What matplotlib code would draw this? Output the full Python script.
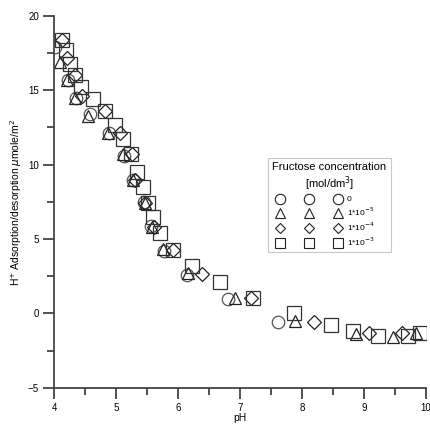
import matplotlib
matplotlib.use('Agg')
import matplotlib.pyplot as plt
from matplotlib.legend_handler import HandlerTuple
from matplotlib.lines import Line2D

plt.rcParams['font.family'] = ['Liberation Sans', 'DejaVu Sans']

# fructose 0
ph_0 = [4.02, 4.22, 4.35, 4.58, 4.88, 5.12, 5.27, 5.45, 5.57, 5.77, 6.15, 6.81, 7.62]
h_0 = [17.9, 15.7, 14.5, 13.4, 12.1, 10.6, 9.0, 7.5, 5.9, 4.2, 2.6, 1.0, -0.6]

# fructose 1e-5
ph_5 = [4.10, 4.21, 4.34, 4.55, 4.87, 5.11, 5.27, 5.47, 5.58, 5.76, 6.16, 6.92, 7.89, 8.88, 9.47, 9.85]
h_5 = [16.9, 15.7, 14.5, 13.3, 12.1, 10.7, 9.0, 7.4, 5.8, 4.3, 2.7, 1.05, -0.5, -1.4, -1.6, -1.3]

# fructose 1e-4
ph_4 = [4.12, 4.21, 4.34, 4.45, 4.82, 5.06, 5.25, 5.30, 5.47, 5.62, 5.92, 6.39, 7.18, 8.20, 9.08, 9.61]
h_4 = [18.4, 17.2, 16.0, 14.6, 13.6, 12.1, 10.7, 9.0, 7.4, 5.8, 4.25, 2.65, 1.05, -0.55, -1.3, -1.3]

# fructose 1e-3
ph_3 = [4.12, 4.19, 4.26, 4.34, 4.44, 4.62, 4.82, 4.98, 5.11, 5.24, 5.33, 5.43, 5.51, 5.60,
        5.71, 5.92, 6.23, 6.68, 7.21, 7.87, 8.47, 8.83, 9.23, 9.71, 9.90]
h_3 = [18.4, 17.7, 16.8, 16.0, 15.2, 14.4, 13.6, 12.7, 11.7, 10.7, 9.5, 8.5, 7.4, 6.5,
       5.4, 4.25, 3.2, 2.1, 1.05, 0.0, -0.75, -1.2, -1.5, -1.5, -1.3]

conc_labels = ['0', '1*10$^{-5}$', '1*10$^{-4}$', '1*10$^{-3}$']

fig = plt.figure(figsize=(4.3, 4.3), dpi=100)
ax = fig.add_axes([0.126, 0.098, 0.864, 0.865])

ax.plot(ph_0, h_0, 'o', ms=9, mfc='none', mec='#555555', mew=0.9)
ax.plot(ph_5, h_5, '^', ms=9, mfc='none', mec='#222222', mew=0.9)
ax.plot(ph_4, h_4, 'D', ms=7, mfc='none', mec='#222222', mew=0.9)
ax.plot(ph_3, h_3, 's', ms=10, mfc='none', mec='#333333', mew=0.9)

ax.set_xlim(4, 10)
ax.set_ylim(-5, 20)
ax.set_xticks(range(4, 11))
ax.set_xticks([4.5, 5.5, 6.5, 7.5, 8.5, 9.5], minor=True)
ax.set_yticks([-5, 0, 5, 10, 15, 20])
ax.set_yticks([-2.5, 2.5, 7.5, 12.5, 17.5], minor=True)
for s in ['top', 'right']:
    ax.spines[s].set_visible(False)
for s in ['left', 'bottom']:
    ax.spines[s].set_color('#444444')
    ax.spines[s].set_linewidth(1.3)
ax.tick_params(which='major', length=8, width=1.3, color='#444444', labelsize=7, pad=3)
ax.tick_params(which='minor', length=5, width=1.3, color='#444444')
ax.set_xlabel('pH', fontsize=7.5, labelpad=0)
ax.set_ylabel('H$^{+}$ Adsorption/desorption $\\mu$mole/m$^{2}$', fontsize=7.5, labelpad=3)

handles = []
for m, ms in [('o', 7.5), ('^', 7.5), ('D', 5.5), ('s', 7.5)]:
    one = Line2D([], [], marker=m, ls='none', ms=ms, mfc='none', mec='#222222', mew=0.8)
    handles.append((one, one, one))
leg = ax.legend(handles, conc_labels, handler_map={tuple: HandlerTuple(ndivide=None, pad=1.6)},
                title='Fructose concentration\n[mol/dm$^{3}$]', title_fontsize=8, fontsize=6,
                loc='upper left', bbox_to_anchor=(0.565, 0.63), handlelength=8.8, handletextpad=0.1,
                labelspacing=0.3, frameon=True, fancybox=False, borderpad=0.5, alignment='left')
leg.get_title().set_multialignment('center')
leg.get_frame().set_edgecolor('#bbbbbb')
leg.get_frame().set_linewidth(0.8)

fig.savefig('out.png', dpi=100)
